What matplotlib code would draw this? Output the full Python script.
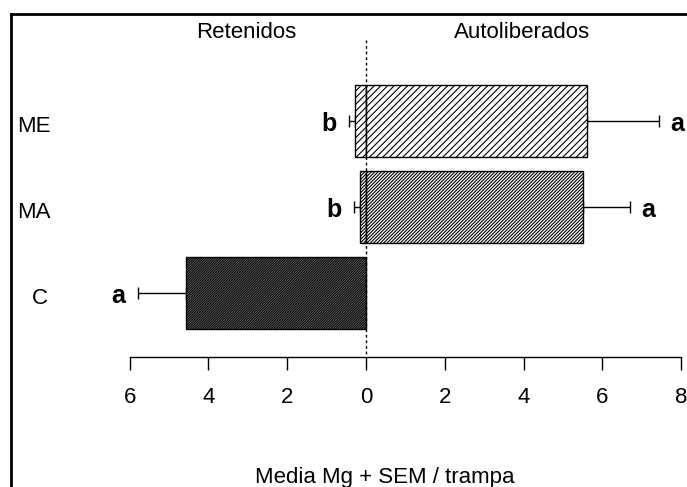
import matplotlib
matplotlib.use("Agg")
import matplotlib.pyplot as plt
from matplotlib.lines import Line2D
import numpy as np

plt.rcParams['font.family'] = ['Liberation Sans', 'DejaVu Sans']
plt.rcParams['hatch.linewidth'] = 0.8

# data (mean Mg per trap, +SEM)
categories = ['ME', 'MA', 'C']
retenidos = [0.28, 0.15, 4.58]
retenidos_sem = [0.15, 0.15, 1.20]
autoliberados = [5.62, 5.50, 0.0]
autoliberados_sem = [1.81, 1.19, 0.0]
ret_letters = ['b', 'b', 'a']
auto_letters = ['a', 'a', '']
hatches = ['/' * 5, '/' * 10, '/' * 14]
bar_faces = ['white', 'white', '#8a8a8a']
tick_values = [-6, -4, -2, 0, 2, 4, 6, 8]

fig = plt.figure(figsize=(6.87, 4.87), dpi=100)
ax = fig.add_axes([0, 0, 1, 1])

# pixel-ish layout: 39.4 px per unit on x, 86 px per bar slot on y
px_per_x = 39.4
px_per_y = 86.0
x0_px, y0_px = 366, 121
ax.set_xlim(-x0_px / px_per_x, (687 - x0_px) / px_per_x)
ax.set_ylim((487 - y0_px) / px_per_y, -y0_px / px_per_y)

ypos = np.arange(len(categories))
bar_h = 72 / px_per_y

for i, cat in enumerate(categories):
    if retenidos[i] > 0:
        ax.barh(ypos[i], -retenidos[i], height=bar_h, color=bar_faces[i],
                edgecolor='black', hatch=hatches[i], linewidth=1, zorder=2)
        ax.errorbar(-retenidos[i], ypos[i], xerr=[[retenidos_sem[i]], [0]],
                    color='black', lw=1, capsize=4.5, capthick=1, zorder=1)
        ax.text(-retenidos[i] - retenidos_sem[i] - 0.52, ypos[i] + 0.03,
                ret_letters[i], ha='center', va='center', fontsize=18,
                fontweight='bold')
    if autoliberados[i] > 0:
        ax.barh(ypos[i], autoliberados[i], height=bar_h, color=bar_faces[i],
                edgecolor='black', hatch=hatches[i], linewidth=1, zorder=2)
        ax.errorbar(autoliberados[i], ypos[i], xerr=[[0], [autoliberados_sem[i]]],
                    color='black', lw=1, capsize=4.5, capthick=1, zorder=1)
        ax.text(autoliberados[i] + autoliberados_sem[i] + 0.47, ypos[i] + 0.03,
                auto_letters[i], ha='center', va='center', fontsize=18,
                fontweight='bold')

# category labels
label_x = [17, 17, 32]
for i, cat in enumerate(categories):
    ax.text((label_x[i] - x0_px) / px_per_x, ypos[i] + 0.06, cat,
            ha='left', va='center', fontsize=16)

# dotted zero line
axis_y = (357 - y0_px) / px_per_y
ax.vlines(0, (40 - y0_px) / px_per_y, axis_y, colors='black',
          linestyles=(0, (2, 2)), lw=1, zorder=3)

# x axis
for s in ['top', 'right', 'left']:
    ax.spines[s].set_visible(False)
ax.spines['bottom'].set_position(('data', axis_y))
ax.spines['bottom'].set_bounds(tick_values[0], tick_values[-1])
ax.spines['bottom'].set_linewidth(1)
ax.set_xticks(tick_values)
ax.set_xticklabels([str(abs(v)) for v in tick_values], fontsize=16)
ax.tick_params(axis='x', direction='out', length=9.4, width=1, pad=12)
ax.set_yticks([])

# headers and axis title
head_y = (32 - y0_px) / px_per_y
ax.text((246 - x0_px) / px_per_x, head_y, 'Retenidos', ha='center',
        va='center', fontsize=16)
ax.text((522 - x0_px) / px_per_x, head_y, 'Autoliberados', ha='center',
        va='center', fontsize=16)
ax.text((385 - x0_px) / px_per_x, (477 - y0_px) / px_per_y,
        'Media Mg + SEM / trampa', ha='center', va='center', fontsize=16)

# frame around the plot (cropped at right and bottom)
fig.add_artist(Line2D([11 / 687, 11 / 687], [0, 1 - 14 / 487],
                      color='black', lw=2, transform=fig.transFigure))
fig.add_artist(Line2D([11 / 687, 1], [1 - 14 / 487, 1 - 14 / 487],
                      color='black', lw=2, transform=fig.transFigure))

fig.savefig('out.png', dpi=100)
